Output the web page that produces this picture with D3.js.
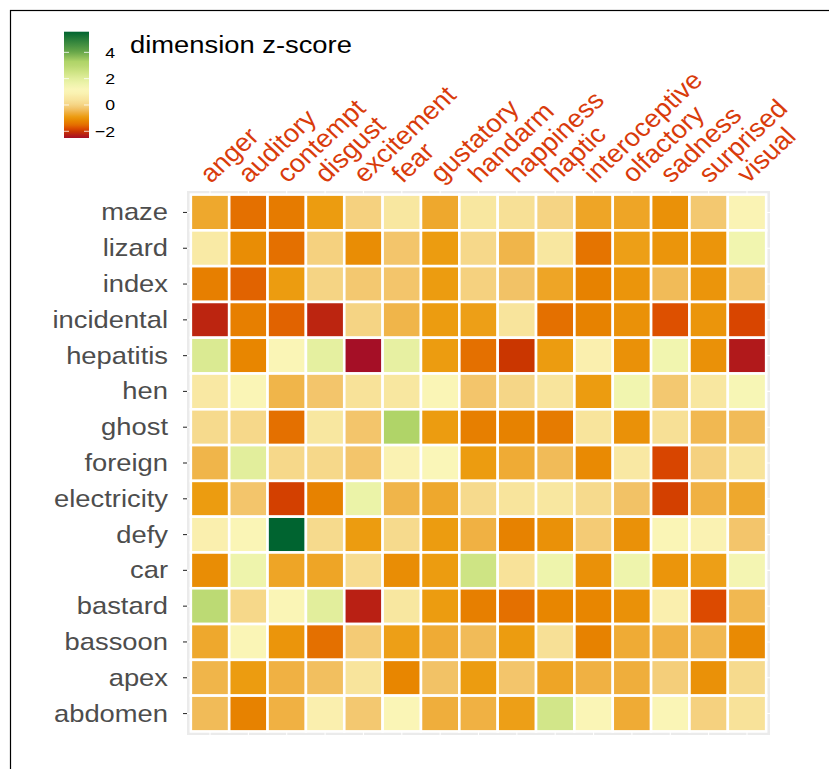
<!DOCTYPE html>
<html>
<head>
<meta charset="utf-8">
<script src="https://cdn.jsdelivr.net/npm/d3@7"></script>
<style>
  body { margin: 0; background: #fff; }
  text { font-family: "Liberation Sans", Arial, sans-serif; }
</style>
</head>
<body>
<script>
// words (rows, top to bottom) and dimensions (columns)
var words = ['maze', 'lizard', 'index', 'incidental', 'hepatitis', 'hen', 'ghost', 'foreign',
    'electricity', 'defy', 'car', 'bastard', 'bassoon', 'apex', 'abdomen'];
var dims = ['anger', 'auditory', 'contempt', 'disgust', 'excitement', 'fear', 'gustatory',
    'handarm', 'happiness', 'haptic', 'interoceptive', 'olfactory', 'sadness', 'surprised', 'visual'];

// z-scores, one row per word, columns in dims order
var zMaze        = [-0.7, -1.5, -1.35, -0.9, -0.05, 0.5, -0.7, 0.5, 0.3, 0.0, -0.75, -0.75, -1.05, -0.2, 1.0];
var zLizard      = [0.6, -1.1, -1.5, -0.05, -1.1, -0.25, -0.9, 0.1, -0.5, 0.5, -1.45, -0.85, -1.0, -1.0, 1.5];
var zIndex       = [-1.3, -1.6, -0.9, 0.0, -0.2, -0.25, -0.9, -0.05, -0.3, -0.75, -1.25, -1.0, -0.4, -1.0, -0.2];
var zIncidental  = [-2.2, -1.3, -1.6, -2.2, 0.0, -0.5, -0.9, -0.85, 0.4, -1.5, -1.25, -1.05, -1.75, -1.0, -1.85];
var zHepatitis   = [2.2, -1.2, 1.1, 1.9, -2.51, 1.85, -0.9, -1.5, -2.0, -0.9, 0.8, -1.05, 1.5, -1.05, -2.35];
var zHen         = [0.55, 1.1, -0.5, -0.25, 0.35, 0.5, 1.1, -0.25, 0.05, 0.4, -0.9, 1.5, -0.2, 0.5, 1.3];
var zGhost       = [0.15, 0.1, -1.5, 0.5, -0.25, 3.3, -0.9, -1.3, -1.25, -1.35, 0.4, -1.05, 0.3, -0.45, -0.4];
var zForeign     = [-0.5, 2.0, 0.1, 0.1, -0.25, 0.9, 1.2, -0.9, -0.65, -0.4, -1.15, 0.55, -1.85, -0.05, 0.4];
var zElectricity = [-0.9, -0.25, -1.9, -1.25, 1.7, -0.5, -0.7, 0.15, 0.4, 0.5, 0.15, -0.3, -1.9, -0.55, -0.7];
var zDefy        = [0.8, 1.1, 5.57, 0.15, -0.9, 0.15, -0.9, -0.55, -1.25, -1.05, -0.15, -1.05, 1.1, 0.9, -0.25];
var zCar         = [-1.1, 1.6, -0.75, -0.75, 0.2, -1.1, -0.9, 2.5, 0.35, 1.6, -1.05, 1.6, -1.0, -0.85, 1.4];
var zBastard     = [2.9, 0.1, 1.1, 2.0, -2.25, 0.5, -0.9, -1.3, -1.5, -1.2, -1.2, -1.05, 0.8, -1.8, -0.45];
var zBassoon     = [-0.7, 1.1, -1.0, -1.5, -0.15, -0.85, -0.65, -0.4, -0.9, 0.3, -1.25, -0.65, -0.55, -0.45, -1.15];
var zApex        = [-0.5, -0.9, -0.55, -0.35, 0.4, -1.2, -0.3, -0.9, -0.25, -0.75, -0.55, -0.6, -0.1, -1.05, 0.15];
var zAbdomen     = [-0.4, -1.25, -0.55, 0.8, -0.2, 1.1, -0.6, -0.55, -0.85, 2.4, 1.1, -0.65, 1.1, -0.05, 0.35];

var zRows = [zMaze, zLizard, zIndex, zIncidental, zHepatitis, zHen, zGhost, zForeign,
    zElectricity, zDefy, zCar, zBastard, zBassoon, zApex, zAbdomen];

var legendTicks = [-2, 0, 2, 4];

// colour ramp stops
var stopVals = [-2.51, -2.3, -2.0, -1.8, -1.5, -1.2, -0.9, -0.6, -0.3, 0.0, 0.4, 0.9, 1.2, 1.6, 2.0, 2.5, 3.0, 3.3, 4.0, 5.57];
var stopCols = ['#a50f26', '#b51c18', '#ca3600', '#dc4a00', '#e47000', '#e88600', '#ec9c10', '#efae3c',
    '#f2c266', '#f5d484', '#f8e49c', '#faf2b2', '#faf6b8', '#eef4ac', '#e2ee9c', '#cee484',
    '#b8d870', '#b0d468', '#6aa84a', '#006430'];

var cells = [];
zRows.forEach(function (row, i) {
    row.forEach(function (v, j) {
        cells.push({ word: words[i], dim: dims[j], value: v });
    });
});

var W = 829, H = 769;
var sx = 1.14; // the text in the picture is stretched sideways

var panel = { left: 187, right: 770, top: 191, bottom: 735 };

var color = d3.scaleLinear().domain(stopVals).range(stopCols).interpolate(d3.interpolateRgb).clamp(true);

var xPad = (panel.right - panel.left) / 15.2 * 0.1;
var yPad = (panel.bottom - panel.top) / 15.2 * 0.1;

var x = d3.scaleBand().domain(dims).range([panel.left + xPad, panel.right - xPad]).padding(0);
var y = d3.scaleBand().domain(words).range([panel.top + yPad, panel.bottom - yPad]).padding(0);

var svg = d3.select('body').append('svg')
    .attr('width', W)
    .attr('height', H);

svg.append('rect')
    .attr('width', W).attr('height', H)
    .attr('fill', '#fff');

// frame line (top and left edges visible)
svg.append('rect')
    .attr('x', 10.5).attr('y', 10.5)
    .attr('width', 1000).attr('height', 1000)
    .attr('fill', 'none')
    .attr('stroke', '#000')
    .attr('stroke-width', 1.2);

// panel background + grid
svg.append('rect')
    .attr('x', panel.left).attr('y', panel.top)
    .attr('width', panel.right - panel.left)
    .attr('height', panel.bottom - panel.top)
    .attr('fill', '#ebebeb');

svg.append('g').selectAll('line.vx')
    .data(dims).enter().append('line')
    .attr('x1', function (d) { return x(d) + x.bandwidth() / 2; })
    .attr('x2', function (d) { return x(d) + x.bandwidth() / 2; })
    .attr('y1', panel.top).attr('y2', panel.bottom)
    .attr('stroke', '#fff').attr('stroke-width', 1.1);

svg.append('g').selectAll('line.hy')
    .data(words).enter().append('line')
    .attr('y1', function (d) { return y(d) + y.bandwidth() / 2; })
    .attr('y2', function (d) { return y(d) + y.bandwidth() / 2; })
    .attr('x1', panel.left).attr('x2', panel.right)
    .attr('stroke', '#fff').attr('stroke-width', 1.1);

// tiles
svg.append('g').selectAll('rect')
    .data(cells).enter().append('rect')
    .attr('x', function (d) { return x(d.dim); })
    .attr('y', function (d) { return y(d.word); })
    .attr('width', x.bandwidth())
    .attr('height', y.bandwidth())
    .attr('fill', function (d) { return color(d.value); })
    .attr('stroke', '#fff')
    .attr('stroke-width', 2.6);

// y axis: ticks + labels
var yAxis = svg.append('g');
yAxis.selectAll('line')
    .data(words).enter().append('line')
    .attr('x1', panel.left - 4).attr('x2', panel.left)
    .attr('y1', function (d) { return y(d) + y.bandwidth() / 2; })
    .attr('y2', function (d) { return y(d) + y.bandwidth() / 2; })
    .attr('stroke', '#333').attr('stroke-width', 1.1);

yAxis.selectAll('text')
    .data(words).enter().append('text')
    .attr('transform', function (d) {
        return 'translate(' + 168 + ',' + (y(d) + y.bandwidth() / 2 + 8) + ') scale(' + sx + ',1)';
    })
    .attr('text-anchor', 'end')
    .attr('font-size', 24)
    .attr('fill', '#4d4d4d')
    .text(function (d) { return d; });

// x axis labels on top, rotated
svg.append('g').selectAll('text')
    .data(dims).enter().append('text')
    .attr('transform', function (d) {
        return 'translate(' + (x(d) + x.bandwidth() / 2 + 1) + ',' + 184 + ') scale(1.07,1) rotate(-45)';
    })
    .attr('text-anchor', 'start')
    .attr('font-size', 25.5)
    .attr('fill', '#d93b0b')
    .text(function (d) { return d; });

// legend colour bar
var bar = { x: 64, y: 31.7, w: 25, h: 106.3 };
var lg = d3.scaleLinear().domain([stopVals[stopVals.length - 1], stopVals[0]]).range([bar.y, bar.y + bar.h]);

var defs = svg.append('defs');
var grad = defs.append('linearGradient')
    .attr('id', 'zgrad')
    .attr('x1', 0).attr('y1', 1).attr('x2', 0).attr('y2', 0);
d3.range(0, 1.0001, 0.02).forEach(function (t) {
    var v = stopVals[0] + t * (stopVals[stopVals.length - 1] - stopVals[0]);
    grad.append('stop').attr('offset', t).attr('stop-color', color(v));
});

svg.append('rect')
    .attr('x', bar.x).attr('y', bar.y)
    .attr('width', bar.w).attr('height', bar.h)
    .attr('fill', 'url(#zgrad)');

var lt = svg.append('g');
legendTicks.forEach(function (t) {
    lt.append('line')
        .attr('x1', bar.x).attr('x2', bar.x + 5)
        .attr('y1', lg(t)).attr('y2', lg(t))
        .attr('stroke', '#fff').attr('stroke-opacity', 0.8).attr('stroke-width', 1);
    lt.append('line')
        .attr('x1', bar.x + bar.w - 5).attr('x2', bar.x + bar.w)
        .attr('y1', lg(t)).attr('y2', lg(t))
        .attr('stroke', '#fff').attr('stroke-opacity', 0.8).attr('stroke-width', 1);
    lt.append('text')
        .attr('transform', 'translate(115,' + (lg(t) + 5.5) + ') scale(' + sx + ',1)')
        .attr('text-anchor', 'end')
        .attr('font-size', 15.5)
        .attr('fill', '#000')
        .text(t < 0 ? '\u2212' + Math.abs(t) : t);
});

svg.append('text')
    .attr('transform', 'translate(130,53.3) scale(' + sx + ',1)')
    .attr('font-size', 24)
    .attr('fill', '#000')
    .text('dimension z-score');
</script>
</body>
</html>
